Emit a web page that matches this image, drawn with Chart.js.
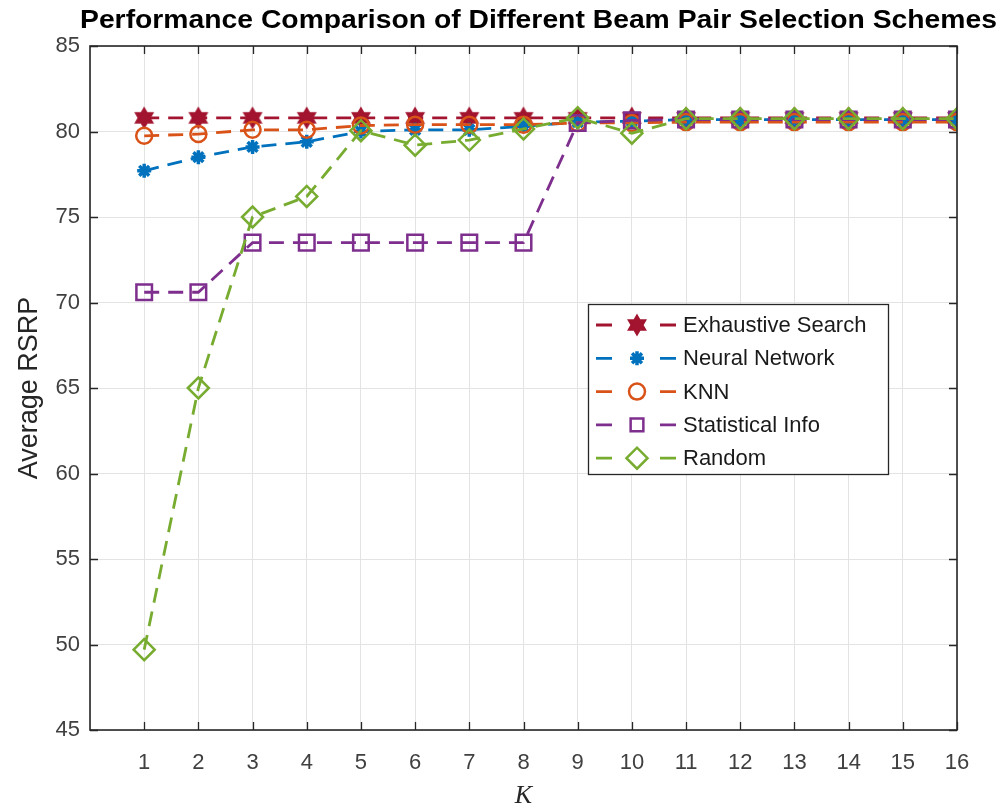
<!DOCTYPE html>
<html lang="en">
<head>
    <meta charset="UTF-8">
    <title>Beam Pair Selection</title>
    <script src="https://cdn.jsdelivr.net/npm/chart.js"></script>
    <style>
        html, body { margin: 0; padding: 0; background: #fff; }
        #wrap { width: 1003px; height: 809px; }
    </style>
</head>
<body>
    <div id="wrap"><canvas id="rsrpChart" width="1003" height="809"></canvas></div>
    <script>
        // data
        const kValues = [1, 2, 3, 4, 5, 6, 7, 8, 9, 10, 11, 12, 13, 14, 15, 16];
        const exhaustive = [80.8, 80.8, 80.8, 80.8, 80.8, 80.8, 80.8, 80.8, 80.8, 80.8, 80.8, 80.8, 80.8, 80.8, 80.8, 80.8];
        const neuralNet = [77.7, 78.5, 79.1, 79.4, 80.0, 80.1, 80.1, 80.3, 80.55, 80.6, 80.7, 80.7, 80.7, 80.7, 80.7, 80.7];
        const knn = [79.75, 79.85, 80.1, 80.1, 80.35, 80.4, 80.4, 80.4, 80.5, 80.5, 80.55, 80.55, 80.55, 80.55, 80.55, 80.55];
        const statInfo = [70.6, 70.6, 73.5, 73.5, 73.5, 73.5, 73.5, 73.5, 80.5, 80.65, 80.7, 80.7, 80.7, 80.7, 80.7, 80.7];
        const randomSel = [49.7, 65.0, 75.0, 76.2, 80.05, 79.2, 79.5, 80.15, 80.8, 79.9, 80.75, 80.75, 80.75, 80.75, 80.75, 80.75];
        const yTicks = [45, 50, 55, 60, 65, 70, 75, 80, 85];
        const seriesNames = ['Exhaustive Search', 'Neural Network', 'KNN', 'Statistical Info', 'Random'];
        const titleText = 'Performance Comparison of Different Beam Pair Selection Schemes';

        const colors = ['#A2142F', '#0072BD', '#D95319', '#7E2F8E', '#77AC30'];

        // six pointed star marker (matlab 'h')
        function hexagram(color, r) {
            const s = Math.ceil(r * 2 + 4);
            const c = document.createElement('canvas');
            c.width = s; c.height = s;
            const g = c.getContext('2d');
            g.translate(s / 2, s / 2);
            g.fillStyle = color;
            g.strokeStyle = color;
            g.lineWidth = 1.5;
            g.beginPath();
            for (let t = 0; t < 2; t++) {
                for (let i = 0; i < 3; i++) {
                    const a = -Math.PI / 2 + t * Math.PI / 3 + i * 2 * Math.PI / 3;
                    const px = Math.cos(a) * r, py = Math.sin(a) * r;
                    if (i === 0) g.moveTo(px, py); else g.lineTo(px, py);
                }
                g.closePath();
            }
            g.fill();
            g.stroke();
            return c;
        }
        const starImg = hexagram(colors[0], 10);

        const markers = [
            { pointStyle: starImg, radius: 10, borderWidth: 1.5, fill: colors[0] },
            { pointStyle: 'star', radius: 7, borderWidth: 3.5, fill: colors[1] },
            { pointStyle: 'circle', radius: 8, borderWidth: 2.5, fill: 'rgba(0,0,0,0)' },
            { pointStyle: 'rect', radius: 11, borderWidth: 2.5, fill: 'rgba(0,0,0,0)' },
            { pointStyle: 'rectRot', radius: 10.5, borderWidth: 2.5, fill: 'rgba(0,0,0,0)' }
        ];
        const allSeries = [exhaustive, neuralNet, knn, statInfo, randomSel];

        const datasets = allSeries.map((vals, i) => ({
            label: seriesNames[i],
            data: kValues.map((k, j) => ({ x: k, y: vals[j] })),
            borderColor: colors[i],
            backgroundColor: colors[i],
            borderWidth: 2.8,
            borderDash: [15, 9],
            pointStyle: markers[i].pointStyle,
            pointRadius: markers[i].radius,
            pointBorderWidth: markers[i].borderWidth,
            pointBorderColor: colors[i],
            pointBackgroundColor: markers[i].fill,
            tension: 0,
            order: 5 - i
        }));

        const AX = { left: 90, top: 46, right: 957, bottom: 730 };
        const boxColor = '#262626';

        // title, box, inward ticks, legend
        const matlabLook = {
            id: 'matlabLook',
            afterDatasetsDraw(chart) {
                const ctx = chart.ctx;
                const xs = chart.scales.x, ys = chart.scales.y;
                const a = chart.chartArea;
                ctx.save();
                ctx.strokeStyle = boxColor;
                ctx.lineWidth = 1.6;
                ctx.strokeRect(a.left, a.top, a.right - a.left, a.bottom - a.top);
                ctx.lineWidth = 1.3;
                ctx.beginPath();
                kValues.forEach(k => {
                    const px = Math.round(xs.getPixelForValue(k)) + 0.5;
                    ctx.moveTo(px, a.bottom); ctx.lineTo(px, a.bottom - 8);
                    ctx.moveTo(px, a.top); ctx.lineTo(px, a.top + 8);
                });
                yTicks.forEach(v => {
                    const py = Math.round(ys.getPixelForValue(v)) + 0.5;
                    ctx.moveTo(a.left, py); ctx.lineTo(a.left + 8, py);
                    ctx.moveTo(a.right, py); ctx.lineTo(a.right - 8, py);
                });
                ctx.stroke();

                // title (condensed to span the same width as the figure title)
                ctx.fillStyle = '#000';
                ctx.font = 'bold 26px "Liberation Sans", Arial, sans-serif';
                ctx.textBaseline = 'middle';
                ctx.textAlign = 'left';
                const tw = ctx.measureText(titleText).width;
                ctx.save();
                ctx.translate(80, 21);
                ctx.scale(917 / tw, 1);
                ctx.fillText(titleText, 0, 0);
                ctx.restore();

                // legend
                const lx = 588, ly = 304, lw = 300, lh = 170;
                ctx.fillStyle = '#fff';
                ctx.fillRect(lx, ly, lw, lh);
                ctx.strokeStyle = boxColor;
                ctx.lineWidth = 1.3;
                ctx.strokeRect(lx + 0.5, ly + 0.5, lw, lh);
                ctx.font = '22px "Liberation Sans", Arial, sans-serif';
                ctx.textAlign = 'left';
                ctx.textBaseline = 'middle';
                chart.data.datasets.forEach((ds, i) => {
                    const cy = 325 + i * 33.3;
                    ctx.strokeStyle = ds.borderColor;
                    ctx.lineWidth = 2.8;
                    ctx.setLineDash([]);
                    ctx.beginPath();
                    ctx.moveTo(596, cy); ctx.lineTo(612, cy);
                    ctx.moveTo(660, cy); ctx.lineTo(676, cy);
                    ctx.stroke();
                    ctx.fillStyle = ds.pointBackgroundColor;
                    ctx.strokeStyle = ds.pointBorderColor;
                    ctx.lineWidth = ds.pointBorderWidth;
                    Chart.helpers.drawPoint(ctx, {
                        pointStyle: ds.pointStyle,
                        radius: i === 3 ? 9 : ds.pointRadius,
                        borderWidth: ds.pointBorderWidth,
                        rotation: 0
                    }, 637, cy);
                    ctx.fillStyle = '#1a1a1a';
                    ctx.fillText(ds.label, 683, cy + 1);
                });
                ctx.restore();
            }
        };

        new Chart(document.getElementById('rsrpChart'), {
            type: 'line',
            data: { datasets: datasets },
            plugins: [matlabLook],
            options: {
                responsive: false,
                animation: false,
                layout: { padding: { top: AX.top, right: 1003 - AX.right, left: 0, bottom: 0 } },
                plugins: {
                    legend: { display: false },
                    title: { display: false },
                    tooltip: { enabled: false }
                },
                scales: {
                    x: {
                        type: 'linear',
                        min: 0,
                        max: 16,
                        afterFit: s => { s.height = 809 - AX.bottom; },
                        afterBuildTicks: s => { s.ticks = [0].concat(kValues).map(v => ({ value: v })); },
                        grid: { color: '#e3e3e3', lineWidth: 1, drawTicks: false },
                        border: { display: false },
                        ticks: {
                            padding: 20,
                            color: '#404040',
                            font: { family: '"Liberation Sans", Arial, sans-serif', size: 22 },
                            maxRotation: 0,
                            callback: v => (v === 0 ? '' : String(v))
                        },
                        title: {
                            display: true,
                            text: 'K',
                            color: '#262626',
                            padding: { top: 0, bottom: 0 },
                            font: { family: '"Liberation Serif", "Times New Roman", serif', size: 26, style: 'italic', lineHeight: 1 }
                        }
                    },
                    y: {
                        min: 45,
                        max: 85,
                        afterFit: s => { s.width = AX.left; },
                        afterBuildTicks: s => { s.ticks = yTicks.map(v => ({ value: v })); },
                        grid: { color: '#e3e3e3', lineWidth: 1, drawTicks: false },
                        border: { display: false },
                        ticks: {
                            padding: 10,
                            color: '#404040',
                            font: { family: '"Liberation Sans", Arial, sans-serif', size: 22 }
                        },
                        title: {
                            display: true,
                            text: 'Average RSRP',
                            color: '#262626',
                            padding: { top: 13, bottom: 0 },
                            font: { family: '"Liberation Sans", Arial, sans-serif', size: 27, lineHeight: 1.2 }
                        }
                    }
                }
            }
        });
    </script>
</body>
</html>
